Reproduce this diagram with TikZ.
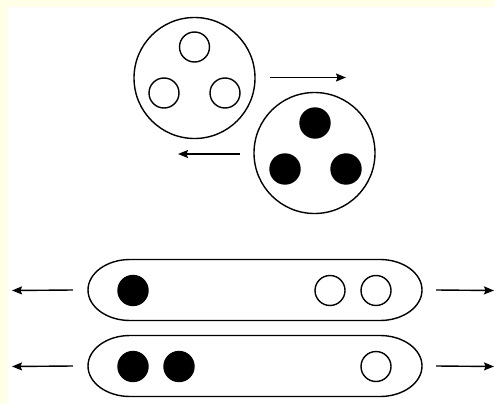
\documentclass[tikz,border=0pt]{standalone}
\usetikzlibrary{arrows.meta}
\definecolor{bgyellow}{HTML}{FFFFE8}
\tikzset{
  lw/.style={line width=1.4pt},
  big/.style={circle,draw,lw,minimum size=121pt,inner sep=0pt,outer sep=0pt},
  ball/.style={circle,draw,lw,minimum size=30pt,inner sep=0pt,outer sep=0pt},
  open/.style={ball,fill=white},
  full/.style={ball,fill=black},
  pillbox/.style={rectangle,minimum width=334pt,minimum height=61pt,inner sep=0pt,outer sep=0pt},
  pillline/.style={draw,lw},
  arr/.style={lw,-{Stealth[length=10pt,width=8pt,inset=1.5pt]}}
}
\newcommand{\pillpath}[1]{%
  \draw[pillline] ([xshift=42pt]#1.north west) -- ([xshift=-42pt]#1.north east)
    arc[start angle=90,end angle=-90,x radius=42pt,y radius=30.5pt]
    -- ([xshift=42pt]#1.south west)
    arc[start angle=270,end angle=90,x radius=42pt,y radius=30.5pt] -- cycle;}
\begin{document}
\begin{tikzpicture}[x=1pt,y=-1pt]
\fill[bgyellow] (0,0) rectangle (495,404);
\fill[white] (8,7) rectangle (495,404);
\useasboundingbox (0,0) rectangle (495,404);
% top circles
\node[big] (A) at (194.5,78) {};
\node[open] (a1) at (194.5,47) {};
\node[open] (a2) at (164,93) {};
\node[open] (a3) at (225,93) {};
\node[big] (B) at (314.5,153) {};
\node[full] (b1) at (315,123) {};
\node[full] (b2) at (285,169) {};
\node[full] (b3) at (346,169) {};
\coordinate (t1s) at (270,77.5);
\coordinate (t1e) at (346,77.5);
\coordinate (t2s) at (240,154);
\coordinate (t2e) at (178,154);
\draw[arr] (t1s) -- (t1e);
\draw[arr] (t2s) -- (t2e);
% pills
\node[pillbox] (P) at (255,290) {};
\pillpath{P}
\node[full] (p1) at (133,290.5) {};
\node[open] (p2) at (330,290.5) {};
\node[open] (p3) at (376,290.5) {};
\node[pillbox] (Q) at (255,366) {};
\pillpath{Q}
\node[full] (q1) at (133,366.5) {};
\node[full] (q2) at (179,366.5) {};
\node[open] (q3) at (376,366.5) {};
\coordinate (l1) at (12,290.5);
\coordinate (l2) at (12,366.5);
\coordinate (r1) at (494,290.5);
\coordinate (r2) at (494,366.5);
\draw[arr] ([xshift=-15pt]P.west) -- (l1);
\draw[arr] ([xshift=-15pt]Q.west) -- (l2);
\draw[arr] ([xshift=14pt]P.east) -- (r1);
\draw[arr] ([xshift=14pt]Q.east) -- (r2);
\end{tikzpicture}
\end{document}
